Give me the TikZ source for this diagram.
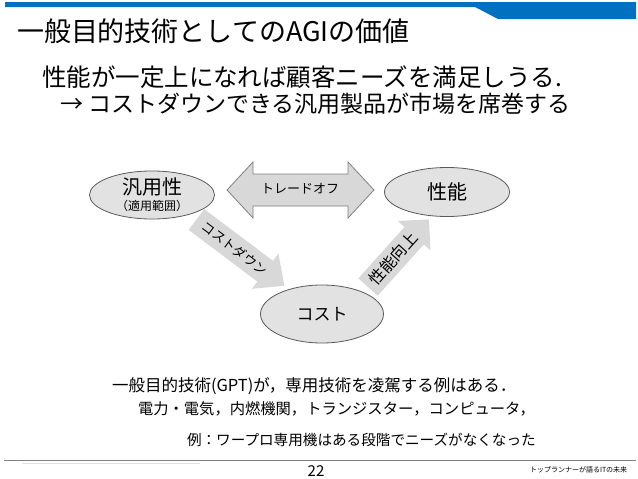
\documentclass[tikz,border=0pt]{standalone}
\usepackage{fontspec}
\setmainfont{Noto Sans CJK JP}
\usetikzlibrary{shapes.geometric,calc}
\definecolor{hdrblue}{RGB}{0,112,192}
\definecolor{ellfill}{RGB}{226,226,226}
\definecolor{ellline}{RGB}{90,90,90}
\definecolor{arrfill}{RGB}{216,216,216}
\definecolor{arrline}{RGB}{128,128,128}
\newcommand\setfs[1]{\fontsize{#1}{#1}\selectfont}
\begin{document}
\begin{tikzpicture}[x=1pt,y=-1pt,
  every node/.style={inner sep=0pt, outer sep=0pt},
  ell/.style={ellipse, draw=ellline, line width=0.8pt, fill=ellfill, inner sep=0pt},
  bigarrow/.style={fill=arrfill},
  txt/.style={anchor=west, text=black}]
\useasboundingbox (0,0) rectangle (638,479);
\fill[white] (0,0) rectangle (638,479);
% header bar
\fill[hdrblue] (5,2) -- (636,2) -- (636,19) -- (498,19) -- (475,7) -- (5,7) -- cycle;
% titles
\node[txt, font=\setfs{27}] (title) at (17,31) {一般目的技術としてのAGIの価値};
\node[txt, font=\setfs{24.5}] (l2) at (42,77) {性能が一定上になれば顧客ニーズを満足しうる.};
\node[txt, font=\setfs{23}] (l3) at (60,104) {→ コストダウンできる汎用製品が市場を席巻する};
% ellipses
\node[ell, minimum width=125, minimum height=45, align=center] (hanyou) at (152,195)
  {{\setfs{20}汎用性}\\[4pt]{\setfs{12}（適用範囲）}};
\node[ell, minimum width=125, minimum height=49, font=\setfs{20}] (seino) at (447,192) {性能};
\node[ell, minimum width=123, minimum height=58, font=\setfs{17}] (cost) at (322,314) {コスト};
% trade-off double arrow
\draw[bigarrow, draw=arrline, line width=0.8pt]
  (227,190) -- (253,162) -- (253,174) -- (348,174) -- (348,162) -- (374,190)
  -- (348,218) -- (348,206) -- (253,206) -- (253,218) -- cycle;
\node[font=\setfs{13}] (tradeoff) at (300,189) {トレードオフ};
% cost-down arrow
\begin{scope}[shift={(196.5,219.5)}, rotate=-37]
  \fill[bigarrow] (0,-13) -- (86,-13) -- (86,-22) -- (110,0) -- (86,22) -- (86,13) -- (0,13) -- cycle;
  \node[transform shape, font=\setfs{13}] (costdown) at (48,0) {コストダウン};
\end{scope}
% performance-up arrow
\begin{scope}[shift={(368,287)}, rotate=48]
  \fill[bigarrow] (0,-13) -- (69,-13) -- (69,-22) -- (91,0) -- (69,22) -- (69,13) -- (0,13) -- cycle;
  \node[transform shape, font=\setfs{16}] (perfup) at (38,0) {性能向上};
\end{scope}
% bottom text
\node[txt, font=\setfs{16.5}] (gpt) at (112,386) {一般目的技術(GPT)が，専用技術を凌駕する例はある．};
\node[txt, font=\setfs{15.3}] (ex1) at (138,409) {電力・電気，内燃機関，トランジスター，コンピュータ，};
\node[txt, font=\setfs{14.6}] (ex2) at (187,440) {例：ワープロ専用機はある段階でニーズがなくなった};
% footer
\draw[black!50, line width=0.8pt] (4,460) -- (636,460);
\draw[black!12, line width=0.6pt] (22,463.5) -- (200,463.5);
\node[font=\setfs{15}] (page) at (316,471) {22};
\node[txt, font=\setfs{7}] (foot) at (530,470) {トップランナーが語るITの未来};
\end{tikzpicture}
\end{document}
